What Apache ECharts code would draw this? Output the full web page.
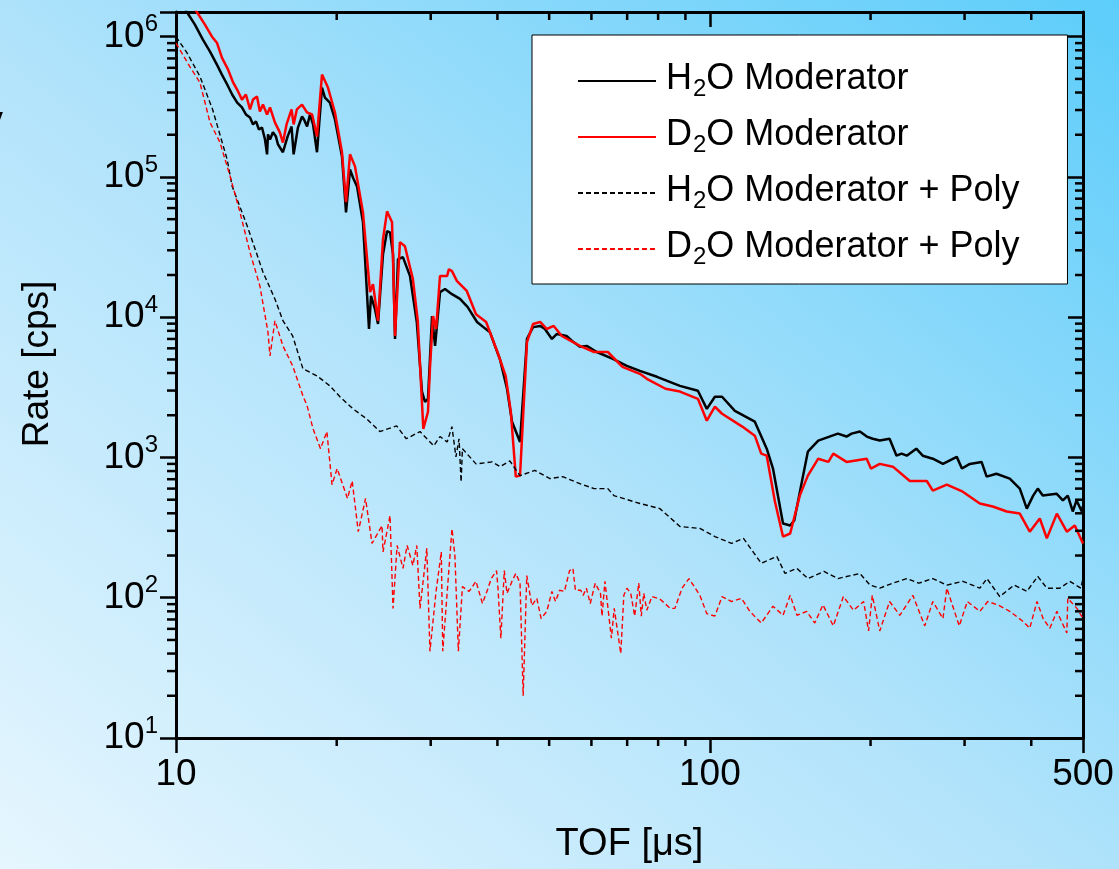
<!DOCTYPE html>
<html>
<head>
<meta charset="utf-8">
<script src="https://cdn.jsdelivr.net/npm/echarts@6/dist/echarts.min.js"></script>
<style>
html,body{margin:0;padding:0;width:1119px;height:869px;overflow:hidden;
background:linear-gradient(to top right,#e6f6fe 0%,#aee2fb 50%,#5ccdfa 100%);}
#c{width:1119px;height:869px;}
</style>
</head>
<body>
<div id="c"></div>
<script>
// ---------- data (TOF in µs, rate in cps) ----------
const seriesNames = ['H2O Moderator','D2O Moderator','H2O Moderator + Poly','D2O Moderator + Poly'];

const h2oX = [10,10.48,10.85,11.23,11.58,11.93,12.19,12.47,12.74,13.02,13.29,13.52,13.76,13.94,14.12,14.30,14.49,14.68,14.81,14.87,15.0,15.19,15.39,15.52,15.86,16.18,16.46,16.61,16.92,17.22,17.37,17.6,17.82,18.06,18.37,18.77,19.01,19.42,19.85,20.46,20.82,21.18,21.46,21.83,22.4,22.99,23.19,23.59,23.9,24.42,24.85,25.17,25.5,25.72,26.05,26.61,27.43,28.25,28.89,29.27,29.65,30.17,30.57,31.23,31.91,32.88,34.04,35.19,36.63,38.74,40.45,41.69,42.6,44.1,45.44,46.65,48.1,49.1,50.6,51.7,53.9,55.2,57.1,58.9,61.4,65.8,69.9,73.95,79.6,87.9,94.97,98.7,102.2,105.4,111.4,121.4,127.8,131.3,137.1,141.4,143.9,148.7,152.6,159.6,173.7,180.3,184.3,191,196.8,201.9,208.1,217.1,223.7,228.6,233.8,243.6,250.5,261.6,273.3,290.1,296.6,306.9,322.8,330,344.2,364.6,380.7,392.4,403.3,411.4,420.3,446,458.4,468.3,478.4,486.3,497.5,500];
const h2oY = [2.1e6,1.5e6,1.22e6,9.52e5,7.82e5,6.32e5,5.37e5,4.56e5,3.87e5,3.39e5,3.13e5,2.79e5,2.65e5,2.37e5,2.49e5,2.18e5,2.25e5,1.85e5,1.45e5,2.01e5,1.85e5,2.08e5,1.94e5,1.71e5,1.50e5,1.94e5,2.29e5,1.45e5,2.25e5,2.70e5,2.57e5,2.29e5,2.79e5,2.37e5,1.50e5,4.34e5,3.68e5,3.39e5,2.57e5,1.40e5,5.59e4,1.13e5,9.87e4,8.57e4,4.75e4,8.24e3,1.42e4,1.14e4,8.95e3,2.81e4,4.10e4,4.03e4,2.81e4,7.0e3,2.59e4,2.68e4,1.97e4,9.25e3,2.95e3,2.49e3,2.62e3,1.02e4,6.24e3,1.51e4,1.59e4,1.46e4,1.35e4,1.18e4,9.25e3,7.8e3,5.0e3,3.09e3,1.8e3,1.29e3,7.0e3,8.5e3,8.67e3,8.24e3,7.0e3,7.6e3,7.35e3,6.77e3,6.15e3,6.24e3,5.65e3,5.04e3,4.5e3,4.14e3,3.76e3,3.24e3,2.99e3,2.22e3,2.71e3,2.71e3,2.15e3,1.80e3,1155,834,338,327,355,670,1100,1320,1480,1410,1480,1530,1410,1360,1320,1360,1030,1065,1030,1155,1030,980,900,1010,834,900,930,730,766,707,600,432,535,600,535,552,494,535,412,494,412,450];

const d2oX = [10,10.94,11.33,11.68,11.93,12.19,12.52,12.8,13.07,13.29,13.52,13.76,13.94,14.18,14.36,14.55,14.81,15.0,15.32,15.65,15.86,16.11,16.46,16.61,16.84,17.22,17.6,17.99,18.37,18.77,19.26,19.85,20.46,20.82,21.18,21.64,22.4,23.09,23.39,23.9,24.42,24.85,25.39,25.72,26.27,26.84,27.78,28.37,29.06,29.65,29.9,30.3,30.7,31.23,32.2,32.45,32.88,33.6,35.05,36.47,38.1,40.0,41.45,42.38,43.3,44.1,45.44,46.65,48.1,49.5,51.0,52.8,57.1,60.7,64.4,68.6,73.95,76.2,82.6,87.9,94.97,98.7,102.2,105.4,115,121.4,124.8,127.8,132.4,137.1,141.4,147.4,152.6,159.6,166.7,170.3,180.3,196.7,200.3,208.1,220.2,236.9,254.9,261.6,277.9,297.7,320.4,338.8,359.9,380.7,397.4,415,427.8,446.7,466.3,482.6,500];
const d2oY = [2.5e6,1.5e6,1.22e6,1.0e6,9.06e5,7.1e5,5.82e5,4.7e5,4.07e5,3.56e5,3.87e5,3.03e5,3.56e5,3.74e5,2.93e5,3.28e5,2.79e5,3.13e5,2.45e5,2.08e5,1.76e5,2.37e5,3.03e5,2.37e5,3.03e5,3.28e5,2.88e5,2.79e5,1.94e5,5.37e5,4.34e5,2.88e5,1.50e5,6.6e4,1.45e5,1.19e5,5.59e4,1.51e4,1.72e4,9.44e3,3.59e4,5.69e4,4.75e4,7.35e3,3.43e4,3.21e4,1.87e4,9.44e3,1.6e3,2.12e3,4.29e3,1.02e4,8.24e3,1.97e4,1.97e4,2.2e4,2.13e4,1.81e4,1.54e4,1.05e4,9.25e3,5.65e3,3.82e3,2.12e3,730,742,6.65e3,8.95e3,9.25e3,8.24e3,8.67e3,7.35e3,6.24e3,5.65e3,5.65e3,4.43e3,3.95e3,3.64e3,3.09e3,2.95e3,2.62e3,1.83e3,2.3e3,2.05e3,1.66e3,1.43e3,1065,1030,485,273,287,535,742,980,930,1065,930,980,834,900,860,680,680,580,640,570,470,447,412,398,296,367,265,398,296,327,244];

const h2oPolyX = [10,10.48,11.09,11.71,12.47,12.74,13.6,14.55,15.32,15.86,16.54,17.29,18.37,19.42,20.28,21.46,22.74,24.1,25.9,27.0,28.65,30.4,31.23,32.2,32.88,33.45,33.9,34.2,34.4,36.47,39.1,40.45,42.2,44.1,47.0,50.18,53.0,57.1,60.7,64.4,66.1,73.95,80.6,87.9,95.8,102.2,109.8,115.6,124.8,133.5,138.3,145.6,152.6,163.6,173.7,191,199.5,208.1,220.2,233.8,246.3,261.6,277.9,297.7,320.4,330.4,349.2,371.5,392.4,411.4,427.8,452.5,472.2,495.4,500];
const h2oPolyY = [1.0e6,7.7e5,5.2e5,3.03e5,1.33e5,8.57e4,4.46e4,2.1e4,1.35e4,9.44e3,7.35e3,4.29e3,3.82e3,3.24e3,2.71e3,2.22e3,1.89e3,1.53e3,1.68e3,1.36e3,1.53e3,1.21e3,1.41e3,1.29e3,1.66e3,1.01e3,1.36e3,670,1155,900,930,860,945,742,810,707,730,650,600,600,535,470,432,322,312,273,244,265,176,197,149,162,137,154,137,149,123,117,127,137,127,137,123,131,117,137,102,123,111,142,117,117,131,117,137];

const d2oPolyX = [10,10.62,11.09,11.58,12.09,12.63,13.18,13.76,14.36,14.87,15.0,15.32,15.86,16.54,17.29,17.6,18.06,18.65,19.17,19.6,20.04,20.95,21.38,21.95,22.65,23.29,24.32,24.42,25.17,25.5,25.95,26.62,27.1,27.78,28.25,28.65,29.5,29.9,30.7,31.4,31.6,32.88,33.3,33.8,34.4,35.4,36.47,37.5,38.3,38.95,39.85,40.1,40.6,41.2,41.69,42.6,43.3,44.1,44.7,45.4,46.4,47.4,48.3,49.5,50.6,51.4,52.3,53.4,54.6,55.4,56.0,57.3,57.9,58.7,59.7,61.0,62.4,62.8,63.6,65.4,66.2,68.1,69.0,69.9,71.1,72.3,73.6,74.4,75.2,76.2,77.9,80.6,84.3,86.0,88.7,91.4,95.8,98.7,102.2,105.4,109.8,114.6,118.8,124.8,131.3,137.1,141.4,145.6,151.9,157.2,162.9,170.3,177.9,185.8,194.1,198.3,201.5,208.1,217.1,226.9,240,252.7,261.6,273.3,277.9,293.2,303.6,320.4,331.6,346.2,364.6,385.7,397.4,410,421,433.4,446.7,466.3,468.3,487,500];
const d2oPolyY = [9.0e5,6.1e5,4.7e5,2.45e5,1.76e5,1.01e5,5.59e4,2.9e4,1.67e4,7.8e3,5.3e3,9.44e3,6.24e3,4.5e3,2.75e3,2.34e3,1.6e3,1155,1530,640,834,510,680,296,510,244,327,212,385,84,236,162,236,170,236,84,225,41.5,111,212,41.5,310,200,41.5,120,111,131,91,113,137,156,117,51.4,156,107.5,131,149,127,20,144,88,99,71,80,111,94,113,111,156,162,113,113,104,117,91,127,107.5,74,131,51.4,84,40,104,117,107.5,74,127,74,107.5,81.5,102,98,84,84,117,137,104,77,74,102,94,99,80,66,87,75,104,75,80,66,89,63,102,81.5,94,58,104,58,94,75,104,63,94,71,117,63,94,80,94,89,80,68,60.6,94,71,60.6,80,56,99,84,71];

// ---------- axis ticks ----------
const xTickLabels = [10, 100, 500];
const yTickExponents = [1, 2, 3, 4, 5, 6];
const xMinorTicks = [20,30,40,50,60,70,80,90,200,300,400];
const yMinorTicks = [20,30,40,50,60,70,80,90,200,300,400,500,600,700,800,900,
  2000,3000,4000,5000,6000,7000,8000,9000,2e4,3e4,4e4,5e4,6e4,7e4,8e4,9e4,
  2e5,3e5,4e5,5e5,6e5,7e5,8e5,9e5];
const xMin = 10, xMax = 500, yMin = 10, yMax = 1.5e6;

// ---------- chart ----------
const FONT = '"Liberation Sans", Arial, sans-serif';
const pairs = (xs, ys) => xs.map((x, i) => [x, ys[i]]);
const chart = echarts.init(document.getElementById('c'), null, {renderer: 'canvas'});
const frame = {show: true, onZero: false, lineStyle: {color: '#000', width: 3}};
const tickStyle = {color: '#000', width: 2.5};

function xLabel(v) {
  const r = Math.round(v);
  return xTickLabels.indexOf(r) >= 0 && Math.abs(v - r) < 1e-6 * r ? String(r) : '';
}
function yLabel(v) {
  const e = Math.round(Math.log10(v));
  if (yTickExponents.indexOf(e) < 0) return '';
  if (Math.abs(v - Math.pow(10, e)) > 1e-6 * v) return '';
  return '{b|10}{s|' + e + '}';
}
function legendLabel(name) {
  return name.replace(/^([HD])2O(.*)$/, '{f|$1}{sub|2}{n|O$2}');
}

function xMinorRender(params, api) {
  const v = api.value(0);
  const b = api.coord([v, yMin]);
  const t = api.coord([v, yMax]);
  return {type: 'group', children: [
    {type: 'line', shape: {x1: b[0], y1: b[1], x2: b[0], y2: b[1] + 8}, style: {stroke: '#000', lineWidth: 2.5}},
    {type: 'line', shape: {x1: t[0], y1: t[1], x2: t[0], y2: t[1] + 8}, style: {stroke: '#000', lineWidth: 2.5}}
  ]};
}
function yMinorRender(params, api) {
  const v = api.value(1);
  const l = api.coord([xMin, v]);
  const r = api.coord([xMax, v]);
  return {type: 'group', children: [
    {type: 'line', shape: {x1: l[0] - 9, y1: l[1], x2: l[0], y2: l[1]}, style: {stroke: '#000', lineWidth: 2.5}},
    {type: 'line', shape: {x1: r[0] - 8, y1: r[1], x2: r[0], y2: r[1]}, style: {stroke: '#000', lineWidth: 2.5}}
  ]};
}

const option = {
  animation: false,
  backgroundColor: 'transparent',
  textStyle: {fontFamily: FONT},
  grid: {left: 176, right: 36, top: 12, bottom: 129, containLabel: false},
  graphic: [{
    type: 'text', x: -16, y: 104, silent: true,
    style: {text: 'y', font: '38px "Liberation Sans", Arial', fill: '#000'}
  }],
  legend: {
    orient: 'vertical', left: 532, top: 35,
    padding: [11, 48, 15, 45],
    itemGap: 1, itemWidth: 78, itemHeight: 14,
    backgroundColor: '#ffffff', borderColor: '#000', borderWidth: 1, borderRadius: 0,
    selectedMode: false,
    itemStyle: {opacity: 0, borderWidth: 0},
    data: seriesNames,
    formatter: legendLabel,
    textStyle: {
      color: '#000', fontFamily: FONT, fontSize: 36,
      rich: {
        f: {fontSize: 36, lineHeight: 40, verticalAlign: 'top', padding: [0, 0, 0, 5], color: '#000', fontFamily: FONT},
        n: {fontSize: 36, lineHeight: 40, verticalAlign: 'top', color: '#000', fontFamily: FONT},
        sub: {fontSize: 24, lineHeight: 24, verticalAlign: 'bottom', padding: [31, 0, 0, 1], color: '#000', fontFamily: FONT}
      }
    }
  },
  xAxis: [
    {
      type: 'log', logBase: 10, min: xMin, max: xMax, position: 'bottom',
      axisLine: frame,
      axisTick: {show: true, inside: false, length: 15, lineStyle: tickStyle},
      minorTick: {show: false}, splitLine: {show: false}, minorSplitLine: {show: false},
      axisLabel: {show: true, margin: 18, color: '#000', fontSize: 37, fontFamily: FONT,
        formatter: xLabel, showMinLabel: true, showMaxLabel: true},
      name: 'TOF [μs]', nameLocation: 'middle', nameGap: 88,
      nameTextStyle: {color: '#000', fontSize: 38, fontFamily: FONT}
    },
    {
      type: 'log', logBase: 10, min: xMin, max: xMax, position: 'top',
      axisLine: frame,
      axisTick: {show: true, inside: true, length: 15, lineStyle: tickStyle},
      axisLabel: {show: false}, splitLine: {show: false}
    }
  ],
  yAxis: [
    {
      type: 'log', logBase: 10, min: yMin, max: yMax, position: 'left',
      axisLine: frame,
      axisTick: {show: true, inside: false, length: 16, lineStyle: tickStyle},
      minorTick: {show: false}, splitLine: {show: false}, minorSplitLine: {show: false},
      axisLabel: {show: true, margin: 18, color: '#000', fontFamily: FONT, formatter: yLabel,
        showMinLabel: true, showMaxLabel: true,
        rich: {
          b: {fontSize: 37, lineHeight: 48, color: '#000', fontFamily: FONT},
          s: {fontSize: 24, lineHeight: 24, padding: [0, 0, 24, 0], color: '#000', fontFamily: FONT}
        }},
      name: 'Rate [cps]', nameLocation: 'middle', nameGap: 120, nameRotate: 90,
      nameTextStyle: {color: '#000', fontSize: 37, fontFamily: FONT, padding: [0, 0, 0, 22]}
    },
    {
      type: 'log', logBase: 10, min: yMin, max: yMax, position: 'right',
      axisLine: frame,
      axisTick: {show: true, inside: true, length: 15, lineStyle: tickStyle},
      axisLabel: {show: false}, splitLine: {show: false}
    }
  ],
  series: [
    {name: seriesNames[0], type: 'line', data: pairs(h2oX, h2oY), symbol: 'none', z: 3,
      color: '#000', lineStyle: {color: '#000', width: 2.5}},
    {name: seriesNames[1], type: 'line', data: pairs(d2oX, d2oY), symbol: 'none', z: 3,
      color: '#ff0000', lineStyle: {color: '#ff0000', width: 2.5}},
    {name: seriesNames[2], type: 'line', data: pairs(h2oPolyX, h2oPolyY), symbol: 'none', z: 3,
      color: '#000', lineStyle: {color: '#000', width: 1.4, type: [5, 3]}},
    {name: seriesNames[3], type: 'line', data: pairs(d2oPolyX, d2oPolyY), symbol: 'none', z: 3,
      color: '#ff0000', lineStyle: {color: '#ff0000', width: 1.4, type: [5, 3]}},
    {name: 'xMinor', type: 'custom', coordinateSystem: 'cartesian2d', clip: false, silent: true, z: 5,
      data: xMinorTicks.map(v => [v, yMin]), encode: {x: 0, y: 1}, renderItem: xMinorRender},
    {name: 'yMinor', type: 'custom', coordinateSystem: 'cartesian2d', clip: false, silent: true, z: 5,
      data: yMinorTicks.map(v => [xMin, v]), encode: {x: 0, y: 1}, renderItem: yMinorRender}
  ]
};
chart.setOption(option);
</script>
</body>
</html>
